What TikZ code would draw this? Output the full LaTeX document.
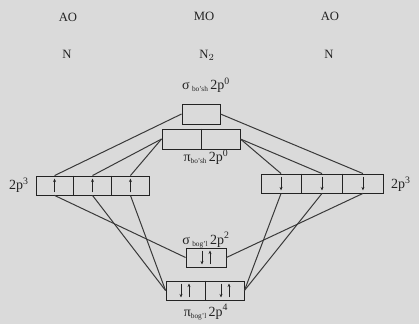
\documentclass[tikz,border=0pt]{standalone}
\usepackage{fontspec}
\setmainfont{Liberation Serif}
\usetikzlibrary{calc,arrows.meta}
\definecolor{bg}{RGB}{218,218,218}
\definecolor{ink}{RGB}{35,35,35}
\newcommand{\sub}[1]{\raisebox{-1.5pt}{\fontsize{5.5}{6}\selectfont #1}}
\begin{document}
\begin{tikzpicture}[x=0.75pt,y=-0.75pt,
  orb/.style={draw=ink, line width=0.65pt, inner sep=0pt},
  conn/.style={draw=ink!90, line width=0.75pt},
  spin/.style={draw=ink, -{Stealth[length=2.6pt,width=2.2pt]}, line width=0.65pt},
  hdr/.style={inner sep=0pt, text=ink, font=\fontsize{9.5}{11}\selectfont},
  lbl/.style={inner sep=0pt, text=ink, font=\fontsize{10.5}{12}\selectfont}]
\path[fill=bg] (0,0) rectangle (419,324);
% headers
\node[hdr] (ao1) at (68,17) {AO};
\node[hdr] (mo) at (204,16) {MO};
\node[hdr] (ao2) at (330,16) {AO};
\node[hdr] (n1) at (67,54) {N};
\node[hdr] (n2) at (207,55) {N$_2$};
\node[hdr] (n3) at (329,54) {N};
% boxes
\node[orb, minimum width=28.5pt, minimum height=15pt] (sigS) at (201,114) {};
\node[orb, minimum width=58.5pt, minimum height=15pt] (piS) at (201,139) {};
\node[orb, minimum width=84.75pt, minimum height=14.25pt] (L) at (92.5,185.5) {};
\node[orb, minimum width=91.5pt, minimum height=14.25pt] (R) at (322,183.5) {};
\node[orb, minimum width=30pt, minimum height=14.25pt] (sigB) at (206,257.5) {};
\node[orb, minimum width=58.5pt, minimum height=14.25pt] (piB) at (205,290.5) {};
% dividers
\draw[ink, line width=0.65pt] (piS.north) -- (piS.south);
\draw[ink, line width=0.65pt] (piB.north) -- (piB.south);
\foreach \b in {L,R}{
  \draw[ink, line width=0.65pt] ($(\b.north west)!1/3!(\b.north east)$) -- ($(\b.south west)!1/3!(\b.south east)$);
  \draw[ink, line width=0.65pt] ($(\b.north west)!2/3!(\b.north east)$) -- ($(\b.south west)!2/3!(\b.south east)$);
}
% named points on AO boxes
\foreach \b in {L,R}{
  \coordinate (\b t1) at ($(\b.north west)!1/6!(\b.north east)$);
  \coordinate (\b t2) at ($(\b.north west)!3/6!(\b.north east)$);
  \coordinate (\b t3) at ($(\b.north west)!5/6!(\b.north east)$);
  \coordinate (\b b1) at ($(\b.south west)!1/6!(\b.south east)$);
  \coordinate (\b b2) at ($(\b.south west)!3/6!(\b.south east)$);
  \coordinate (\b b3) at ($(\b.south west)!5/6!(\b.south east)$);
}
% spins
\foreach \i in {1,2,3}{
  \draw[spin] ($(Lb\i)+(0,-3)$) -- ($(Lt\i)+(0,3)$);
  \draw[spin] ($(Rt\i)+(0,3)$) -- ($(Rb\i)+(0,-3)$);
}
\draw[spin] ($(sigB.north)+(-4,3)$) -- ($(sigB.south)+(-4,-3)$);
\draw[spin] ($(sigB.south)+(4,-3)$) -- ($(sigB.north)+(4,3)$);
\foreach \dx in {-20,20}{
  \draw[spin] ($(piB.north)+(\dx-4,3)$) -- ($(piB.south)+(\dx-4,-3)$);
  \draw[spin] ($(piB.south)+(\dx+4,-3)$) -- ($(piB.north)+(\dx+4,3)$);
}
% connectors
\draw[conn] (Lt1) -- (sigS.west);
\draw[conn] (Lt2) -- (piS.west);
\draw[conn] (Lt3) -- (piS.west);
\draw[conn] (Lb1) -- (sigB.west);
\draw[conn] (Lb2) -- (piB.west);
\draw[conn] (Lb3) -- (piB.west);
\draw[conn] (Rt3) -- (sigS.east);
\draw[conn] (Rt1) -- (piS.east);
\draw[conn] (Rt2) -- (piS.east);
\draw[conn] (Rb3) -- (sigB.east);
\draw[conn] (Rb1) -- (piB.east);
\draw[conn] (Rb2) -- (piB.east);
% labels
\node[lbl] (lsS) at (206,85) {σ\,\sub{bo'sh}\,2p\textsuperscript{0}};
\node[lbl] (lpS) at (206,157) {π\sub{bo'sh}\,2p\textsuperscript{0}};
\node[lbl] (lL) at (19,185) {2p\textsuperscript{3}};
\node[lbl] (lR) at (401,184) {2p\textsuperscript{3}};
\node[lbl] (lsB) at (206,240) {σ\,\sub{bog'l}\,2p\textsuperscript{2}};
\node[lbl] (lpB) at (206,312) {π\sub{bog'l}\,2p\textsuperscript{4}};
\end{tikzpicture}
\end{document}
